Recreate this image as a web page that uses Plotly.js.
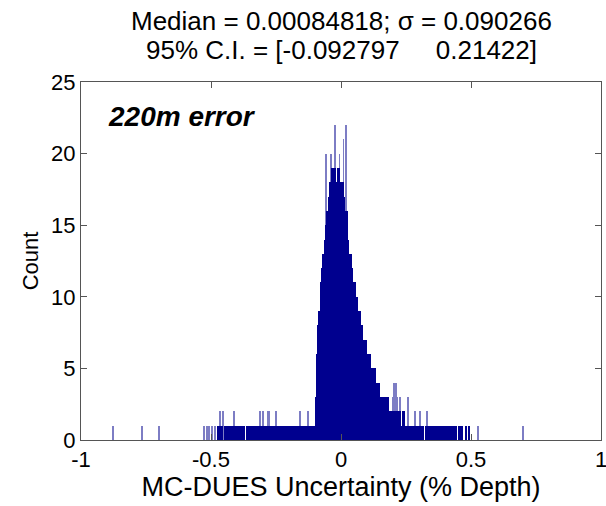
<!DOCTYPE html>
<html>
<head>
<meta charset="utf-8">
<script src="https://cdn.plot.ly/plotly-3.0.1.min.js"></script>
<style>html,body{margin:0;padding:0;background:#fff;}#chart{width:606px;height:506px;}</style>
</head>
<body>
<div id="chart"></div>
<script>
// Histogram body: bin counts, first bin starts at -0.525, bin width 0.005
var binStart = -0.525;
var binWidth = 0.005;
var bodyCounts = [
  // -0.525 .. -0.480
  0,0,0,0,0,0,0,0,0,0,
  // -0.475 .. -0.105
  1,1,1,1,0,1,1,1,1,1, 1,1,1,1,1,1,1,1,1,1, 1,0,1,1,1,1,1,1,1,1,
  1,1,1,1,1,1,0,1,1,1, 1,1,1,1,1,1,1,1,1,1, 1,1,1,1,1,1,1,0,1,1,
  1,1,1,1,1,1,1,1,1,1, 1,1,1,1,1,
  // -0.100 .. -0.005
  3,6,8,9,11,12,13,14,15,16, 17,18,18,19,19,19,18,19,19,18,
  // 0.000 .. 0.245
  18,18,17,16,16,14,13,13,12,11, 11,10,10,9,9,8,8,7,7,7,
  6,6,6,5,5,5,5,4,4,4, 3,3,3,3,3,3,3,2,2,2,
  2,2,2,2,2,2,1,2,2,1,
  // 0.250 .. 0.495
  1,1,1,1,1,1,1,1,1,1, 1,1,1,1,0,1,1,1,1,1, 1,1,1,1,1,1,1,1,0,1,
  1,1,1,1,1,0,1,1,1,0, 1,1,0,1,0,0,1,0,1,0
];
// Isolated single bins that stick out (thin, lighter in the picture)
var spikeX = [-0.877,-0.765,-0.700,-0.527,-0.515,-0.508,-0.496,-0.485,
  -0.465,-0.454,-0.412,-0.312,-0.300,-0.281,-0.277,-0.250,-0.158,-0.127,
  -0.058,-0.038,-0.023,-0.005,0.009,0.019,
  0.200,0.204,0.212,0.215,0.227,0.258,0.285,0.304,0.331,0.527,0.700];
var spikeY = [1,1,1,1,1,1,1,1,
  2,2,2,2,2,2,2,2,2,2,
  20,20,22,20,21,22,
  3,4,4,3,3,3,2,2,2,1,1];

var xTickVals = [-1,-0.5,0,0.5,1];
var xTickText = ['-1','-0.5','0','0.5','1'];
var yTickVals = [0,5,10,15,20,25];
var yTickText = ['0','5','10','15','20','25'];

var titleLine1 = 'Median = 0.00084818; \u03C3 = 0.090266';
var titleLine2 = '95% C.I. = [-0.092797\u00A0\u00A0\u00A0\u00A0\u00A00.21422]';
var xLabel = 'MC-DUES Uncertainty (% Depth)';
var yLabel = 'Count';
var note = '220m error';

var navy = 'rgb(0,0,143)';
var light = 'rgb(125,125,196)';
var FONT = 'Liberation Sans, Arial, Helvetica, sans-serif';
var FS = 22;
var FL = 26;

var traces = [
  {type:'bar', x: spikeX, y: spikeY, width: 0.0015,
   marker:{color: light, line:{width:0}}, hoverinfo:'skip'},
  {type:'bar', y: bodyCounts, x0: binStart + binWidth/2, dx: binWidth,
   width: binWidth, marker:{color: navy, line:{width:0}}, hoverinfo:'skip'}
];

var axisCommon = {
  showline:true, linecolor:'#555', linewidth:1, mirror:'ticks',
  ticks:'inside', ticklen:6, tickcolor:'#555', showgrid:false, zeroline:false,
  tickfont:{family:FONT, size:FS, color:'#000'}
};

var layout = {
  width:606, height:506,
  margin:{l:81, r:5, t:82, b:66},
  paper_bgcolor:'#fff', plot_bgcolor:'#fff',
  showlegend:false, barmode:'overlay', bargap:0,
  font:{family:FONT, size:FS, color:'#000'},
  xaxis: Object.assign({}, axisCommon, {range:[-1,1], tickmode:'array',
         tickvals:xTickVals, ticktext:xTickText, ticklabeloverflow:'allow',
         title:{text:xLabel, font:{family:FONT, size:27, color:'#000'}, standoff:0}}),
  yaxis: Object.assign({}, axisCommon, {range:[0,25], tickmode:'array',
         tickvals:yTickVals, ticktext:yTickText,
         title:{text:yLabel, font:{family:FONT, size:FS, color:'#000'}, standoff:6}}),
  annotations:[
    {text:'<b><i>' + note + '</i></b>', xref:'x', yref:'y',
     x:-0.905, y:22.6, xanchor:'left', yanchor:'middle', showarrow:false,
     font:{family:FONT, size:28, color:'#000'}},
    {text:titleLine1, xref:'paper', yref:'paper', x:0.5, y:1.1707,
     xanchor:'center', yanchor:'middle', showarrow:false,
     font:{family:FONT, size:FL, color:'#000'}},
    {text:titleLine2, xref:'paper', yref:'paper', x:0.5, y:1.088,
     xanchor:'center', yanchor:'middle', showarrow:false,
     font:{family:FONT, size:FL, color:'#000'}}
  ]
};

Plotly.newPlot('chart', traces, layout, {displayModeBar:false});
</script>
</body>
</html>
